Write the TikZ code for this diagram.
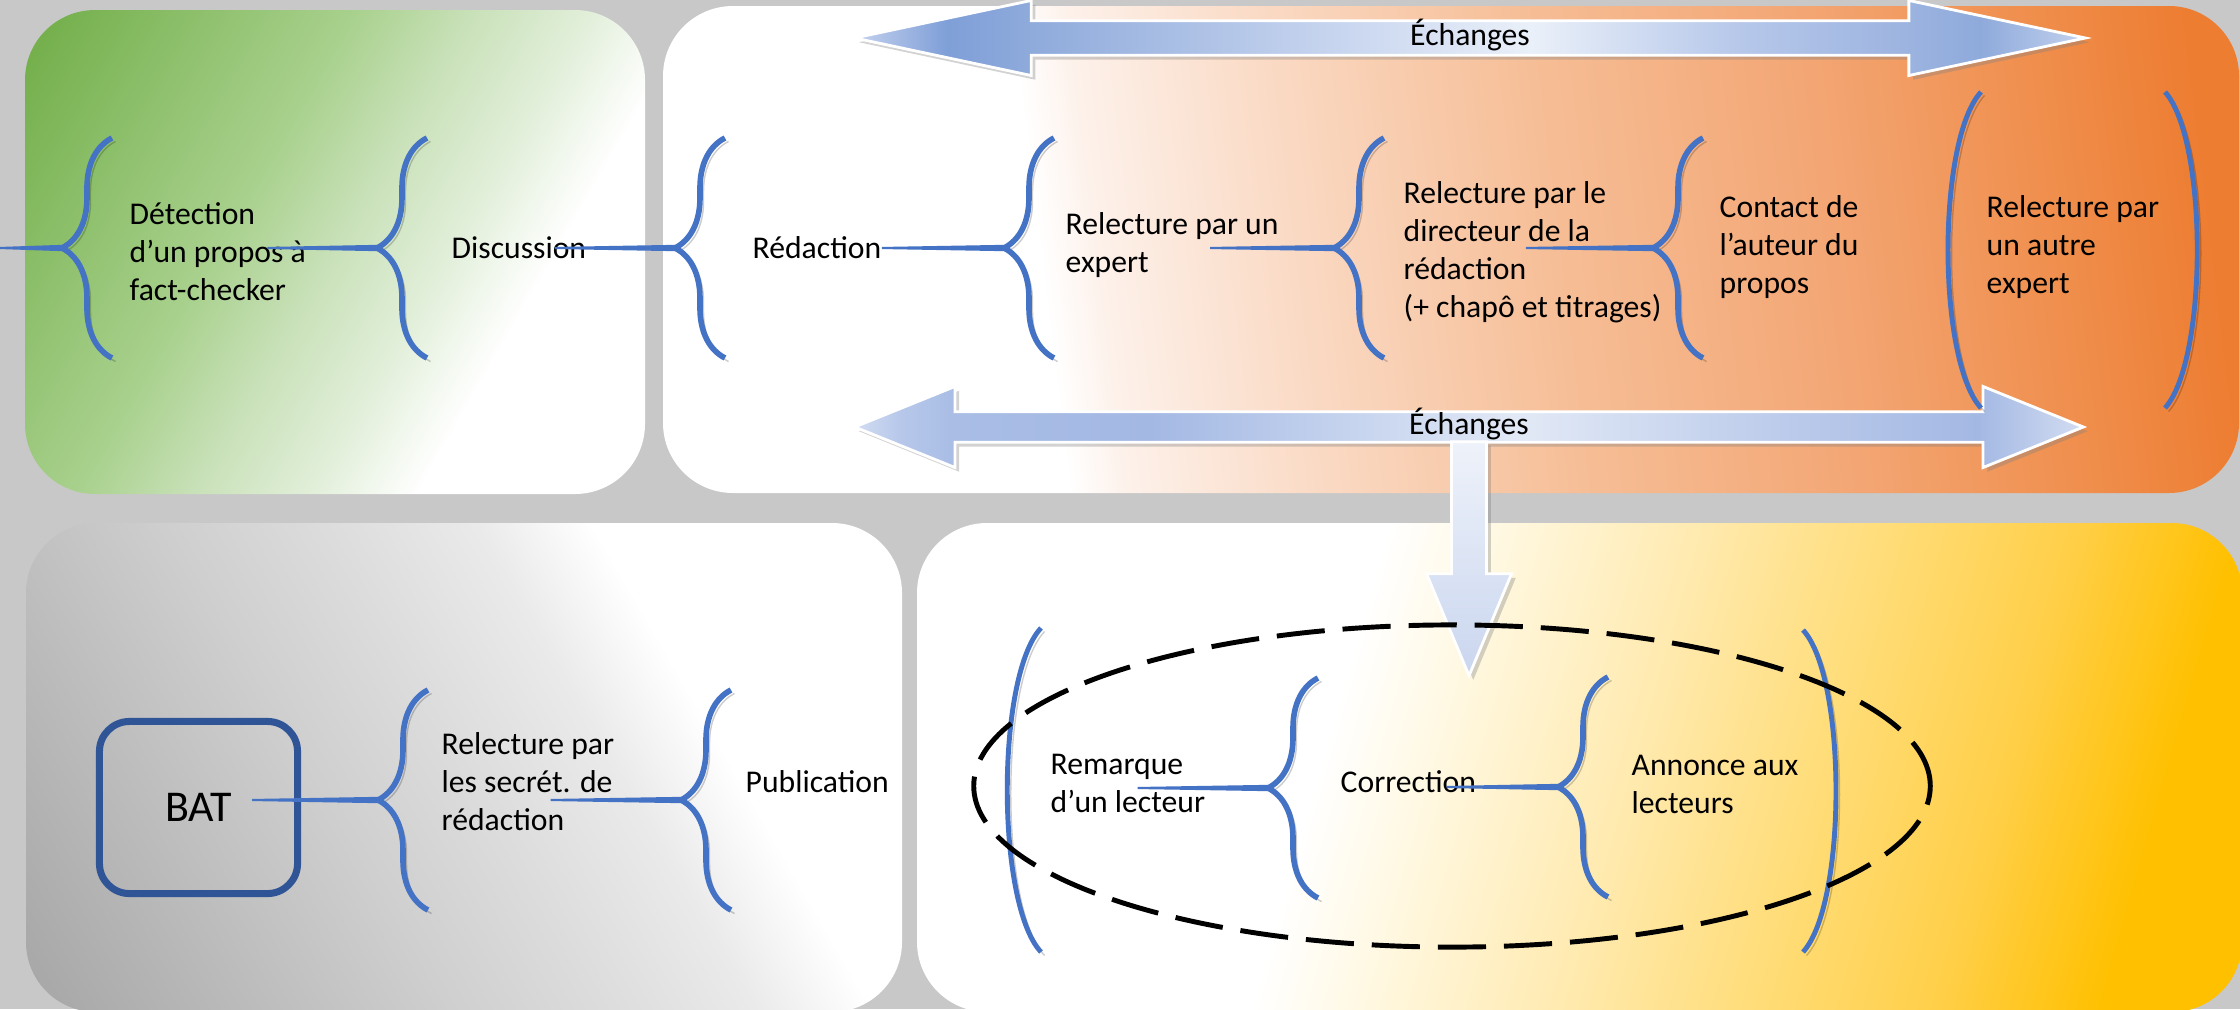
\documentclass[tikz,border=0pt]{standalone}
\usepackage{fontspec}
\setmainfont{Carlito}
\usepackage{xcolor}
\usepackage{tikz}
\usetikzlibrary{positioning, shapes, calc, decorations.pathreplacing, shadows}

\definecolor{backg}{HTML}{C8C8C8}
\definecolor{bracec}{HTML}{4472C4}
\definecolor{batc}{HTML}{2F5597}
% panels
\definecolor{grA}{HTML}{70AD47}
\definecolor{grB}{HTML}{A9D18E}
\definecolor{grC}{HTML}{C9E1B9}
\definecolor{grD}{HTML}{E2EFDA}
\definecolor{orA}{HTML}{FDF1EA}
\definecolor{orB}{HTML}{FAD9C3}
\definecolor{orC}{HTML}{F6BD95}
\definecolor{orD}{HTML}{F3A674}
\definecolor{orE}{HTML}{EF8A46}
\definecolor{orF}{HTML}{ED7D31}
\definecolor{gyA}{HTML}{A6A6A6}
\definecolor{gyB}{HTML}{CFCFCF}
\definecolor{gyC}{HTML}{DCDCDC}
\definecolor{gyD}{HTML}{EAEAEA}
\definecolor{yeA}{HTML}{FFF6DA}
\definecolor{yeB}{HTML}{FFEAB0}
\definecolor{yeC}{HTML}{FFDD7A}
\definecolor{yeD}{HTML}{FFCF48}
\definecolor{yeE}{HTML}{FFC000}
% arrows
\definecolor{blA}{HTML}{C4D2EE}
\definecolor{blB}{HTML}{7F9FD8}
\definecolor{blC}{HTML}{8EAADB}
\definecolor{blD}{HTML}{C5D3EE}
\definecolor{blE}{HTML}{EAF0F9}
\definecolor{blF}{HTML}{B7C8EA}
\definecolor{blG}{HTML}{9DB4E0}
\definecolor{blH}{HTML}{D3DDF2}
\definecolor{blI}{HTML}{A9BDE5}
\definecolor{blJ}{HTML}{A3B8E3}
\definecolor{blK}{HTML}{E2E9F6}
\definecolor{blL}{HTML}{EEF2FA}
\definecolor{blM}{HTML}{BCCBEB}
\definecolor{blN}{HTML}{CAD6EF}

\pgfdeclarehorizontalshading{greenpan}{100bp}{color(0bp)=(grA); color(16bp)=(grA); color(41bp)=(grB); color(50bp)=(grC); color(59bp)=(grD); color(67bp)=(white); color(100bp)=(white)}
\pgfdeclarehorizontalshading{orangepan}{100bp}{color(0bp)=(white); color(36bp)=(white); color(38bp)=(orA); color(44.8bp)=(orB); color(53.8bp)=(orC); color(62.9bp)=(orD); color(72bp)=(orE); color(76bp)=(orF); color(100bp)=(orF)}
\pgfdeclarehorizontalshading{graypan}{100bp}{color(0bp)=(gyA); color(16bp)=(gyA); color(41bp)=(gyB); color(50bp)=(gyC); color(59bp)=(gyD); color(66bp)=(white); color(100bp)=(white)}
\pgfdeclarehorizontalshading{yellowpan}{100bp}{color(0bp)=(white); color(39bp)=(white); color(45bp)=(yeA); color(52bp)=(yeB); color(60bp)=(yeC); color(68bp)=(yeD); color(75bp)=(yeE); color(100bp)=(yeE)}
\pgfdeclarehorizontalshading{xchtop}{100bp}{color(0bp)=(blA); color(25bp)=(blA); color(28.75bp)=(blB); color(32bp)=(blC); color(44bp)=(blD); color(52.5bp)=(blE); color(60.8bp)=(blF); color(67.6bp)=(blG); color(70.75bp)=(blC); color(75bp)=(blA); color(100bp)=(blA)}
\pgfdeclarehorizontalshading{xchbot}{100bp}{color(0bp)=(blH); color(25bp)=(blH); color(26.8bp)=(blF); color(29bp)=(blI); color(37bp)=(blJ); color(45bp)=(blD); color(52bp)=(blK); color(62.8bp)=(blM); color(70.7bp)=(blJ); color(75bp)=(blH); color(100bp)=(blH)}

\begin{document}
\begin{tikzpicture}[x=0.01cm, y=-0.01cm,
    txt/.style={font=\fontsize{9}{10.8}\selectfont, align=left, anchor=west, inner sep=0pt},
    cbrace/.style={draw=bracec, line width=1.6pt, decorate, decoration={brace, amplitude=0.5cm},
      preaction={draw=black, opacity=0.2, transform canvas={shift={(1pt,-1pt)}}}},
    paren/.style={draw=bracec, line width=1.4pt,
      preaction={draw=black, opacity=0.2, transform canvas={shift={(1pt,-1pt)}}}},
    feed/.style={fill=bracec, to path={($(\tikztostart |- \tikztotarget)+(0,.3pt)$) -- ($(\tikztotarget)+(0,.9pt)$) -- ($(\tikztotarget)+(0,-.9pt)$) -- ($(\tikztostart |- \tikztotarget)+(0,-.3pt)$) -- cycle}},
    xch/.style={double arrow, shade, draw=white, line width=0.8pt, inner sep=0pt,
      font=\fontsize{9}{10.8}\selectfont, text height=6pt, text depth=1.5pt,
      drop shadow={shadow xshift=1.2pt, shadow yshift=-1.2pt, opacity=0.35}}]
      \useasboundingbox (0,0) rectangle (2240,1009);
      \fill[backg] (0,0) rectangle (2240,1009);

      % panels
      \shade[shading=greenpan, shading angle=-30, rounded corners=0.7cm] (25,10) rectangle (645,494);
      \shade[shading=orangepan, shading angle=7, rounded corners=0.7cm] (663,6) rectangle (2239,493);
      \shade[shading=graypan, shading angle=30, rounded corners=0.7cm] (26,523) rectangle (902,1012);
      \shade[shading=yellowpan, shading angle=-16, rounded corners=0.7cm] (917,523) rectangle (2242,1012);

      % exchange arrows
      \node[xch, shading=xchtop, minimum height=12.3cm, minimum width=0.75cm,
        double arrow head extend=0.17cm, double arrow tip angle=24] (ech1) at (1470,38) {Échanges};
      \node[xch, shading=xchbot, minimum height=12.28cm, minimum width=0.81cm,
        double arrow head extend=0.24cm, double arrow tip angle=44] (ech2) at (1469,427) {Échanges};
      \shade[top color=blL, bottom color=blN, draw=white, line width=0.8pt,
        drop shadow={shadow xshift=1.2pt, shadow yshift=-1.2pt, opacity=0.35}]
        ($(ech2.south)+(-17.5,-2)$) -- ++(35,0) -- ++(0,132) -- ++(25,0) -- ++(-42.5,102)
        -- ++(-42.5,-102) -- ++(25,0) -- cycle;

      % texts
      \node[txt] (det) at (129,252) {Détection\\d’un propos à\\fact-checker};
      \node[txt] (disc) at (451,248) {Discussion};
      \node[txt] (red) at (752,248) {Rédaction};
      \node[txt] (exp1) at (1065,245) {Relecture par un\\expert};
      \node[txt] (dir) at (1403,252) {Relecture par le\\directeur de la\\rédaction\\(+ chapô et titrages)};
      \node[txt] (cont) at (1719,247) {Contact de\\l’auteur du\\propos};
      \node[txt] (exp2) at (1986,247) {Relecture par\\un autre\\expert};
      \node[draw=batc, line width=2pt, rounded corners=0.3cm, minimum width=1.98cm, minimum height=1.72cm,
        font=\fontsize{12.5}{15}\selectfont] (bat) at (198.5,807.5) {BAT};
      \node[txt] (sec) at (441,782) {Relecture par\\les secrét. de\\rédaction};
      \node[txt] (pub) at (745,782) {Publication};
      \node[txt] (rem) at (1050,783) {Remarque\\d’un lecteur};
      \node[txt] (cor) at (1340,782) {Correction};
      \node[txt] (ann) at (1631,784) {Annonce aux\\lecteurs};

      % brace tips
      \coordinate (in) at (0,248);
      \coordinate (t1) at (62,248);
      \coordinate (t2) at (377,248);
      \coordinate (t3) at (675,248);
      \coordinate (t4) at (1004,248);
      \coordinate (t5) at (1334,248);
      \coordinate (t6) at (1653,248);
      \coordinate (t7) at (378,800);
      \coordinate (t8) at (681,800);
      \coordinate (t9) at (1268,788);
      \coordinate (t10) at (1558,787);

      \draw[cbrace] ([shift={(50,110)}]t1) -- ([shift={(50,-110)}]t1);
      \draw[cbrace] ([shift={(50,110)}]t2) -- ([shift={(50,-110)}]t2);
      \draw[cbrace] ([shift={(50,110)}]t3) -- ([shift={(50,-110)}]t3);
      \draw[cbrace] ([shift={(50,110)}]t4) -- ([shift={(50,-110)}]t4);
      \draw[cbrace] ([shift={(50,110)}]t5) -- ([shift={(50,-110)}]t5);
      \draw[cbrace] ([shift={(50,110)}]t6) -- ([shift={(50,-110)}]t6);
      \draw[cbrace] ([shift={(50,110)}]t7) -- ([shift={(50,-110)}]t7);
      \draw[cbrace] ([shift={(50,110)}]t8) -- ([shift={(50,-110)}]t8);
      \draw[cbrace] ([shift={(50,110)}]t9) -- ([shift={(50,-110)}]t9);
      \draw[cbrace] ([shift={(50,110)}]t10) -- ([shift={(50,-110)}]t10);

      % large brackets
      \draw[paren] (1981,92) .. controls (1937,140) and (1937,360) .. (1981,408);
      \draw[paren] (2165,92) .. controls (2208,140) and (2208,360) .. (2165,408);
      \draw[paren] (1041,628) .. controls (996,676) and (996,904) .. (1041,952);
      \draw[paren] (1803,630) .. controls (1847,678) and (1847,904) .. (1803,952);

      % connectors
      \path[feed] (in) to (t1);
      \path[feed] ([xshift=-0.39cm]det.east) to (t2);
      \path[feed] ([xshift=-0.32cm]disc.east) to (t3);
      \path[feed] (red.east) to (t4);
      \path[feed] ([xshift=-0.69cm]exp1.east) to (t5);
      \path[feed] ([xshift=-1.36cm]dir.east) to (t6);
      \path[feed] ([xshift=-0.49cm]bat.east) to (t7);
      \path[feed] ([xshift=-0.64cm]sec.east) to (t8);
      \path[feed] ([xshift=-0.68cm]rem.east) to (t9);
      \path[feed] ([xshift=-0.30cm]cor.east) to (t10);

      \node[draw, ellipse, line width=1.4pt, dash pattern=on 13.7pt off 5.1pt, inner sep=0pt,
        minimum width=9.56cm, minimum height=3.22cm] (grp) at (1452,786) {};
    \end{tikzpicture}
\end{document}
